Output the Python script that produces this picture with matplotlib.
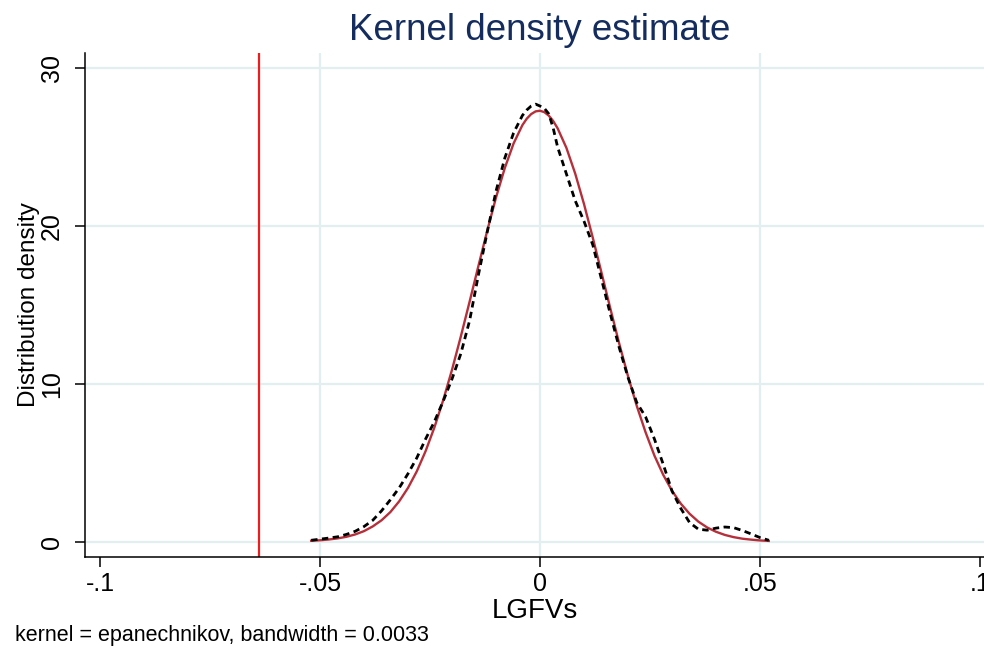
import matplotlib
matplotlib.use("Agg")
import matplotlib.pyplot as plt

# ---- data ----
x_vals = [-0.052, -0.050, -0.048, -0.046, -0.044, -0.042, -0.040, -0.038, -0.036, -0.034,
          -0.032, -0.030, -0.028, -0.026, -0.024, -0.022, -0.020, -0.018, -0.016, -0.014,
          -0.012, -0.010, -0.008, -0.006, -0.004, -0.003, -0.002, -0.001, 0.000, 0.001,
          0.002, 0.003, 0.004, 0.006,
          0.008, 0.010, 0.012, 0.014, 0.016, 0.018, 0.020, 0.022, 0.024, 0.026,
          0.028, 0.030, 0.032, 0.034, 0.036, 0.038, 0.040, 0.042, 0.044, 0.046,
          0.048, 0.050, 0.052]

normal_density = [0.05, 0.08, 0.13, 0.20, 0.30, 0.45, 0.66, 0.96, 1.35, 1.87,
                  2.55, 3.40, 4.45, 5.73, 7.23, 8.96, 10.88, 12.99, 15.20, 17.46,
                  19.69, 21.80, 23.67, 25.23, 26.39, 26.80, 27.09, 27.26, 27.30, 27.21,
                  26.99, 26.65, 26.19, 24.95,
                  23.32, 21.39, 19.25, 17.01, 14.75, 12.55, 10.48, 8.59, 6.92, 5.45,
                  4.23, 3.22, 2.40, 1.76, 1.26, 0.89, 0.62, 0.42, 0.28, 0.18,
                  0.12, 0.07, 0.04]

kernel_density = [0.08, 0.15, 0.22, 0.30, 0.45, 0.65, 0.95, 1.35, 1.95, 2.65,
                  3.40, 4.30, 5.30, 6.50, 7.60, 8.90, 10.30, 11.90, 14.00, 16.90,
                  19.60, 22.20, 24.30, 25.90, 27.00, 27.35, 27.60, 27.72, 27.60, 27.45,
                  27.10, 26.20, 25.00, 23.30,
                  21.60, 20.30, 18.80, 16.60, 14.40, 12.30, 10.40, 8.80, 7.90, 6.50,
                  4.90, 3.20, 2.10, 1.20, 0.78, 0.72, 0.85, 0.92, 0.88, 0.70,
                  0.48, 0.25, 0.08]

ref_line_x = -0.0639

x_ticks = [-0.1, -0.05, 0.0, 0.05, 0.1]
x_tick_labels = ["-.1", "-.05", "0", ".05", ".1"]
y_ticks = [0, 10, 20, 30]
y_tick_labels = ["0", "10", "20", "30"]

title = "Kernel density estimate"
x_label = "LGFVs"
y_label = "Distribution density"
note = "kernel = epanechnikov, bandwidth = 0.0033"

# ---- figure ----
plt.rcParams['font.family'] = ['Liberation Sans', 'DejaVu Sans']
fig = plt.figure(figsize=(9.84, 6.49), dpi=100)
W, H = 984, 649
ax = fig.add_axes([85 / W, 1 - 557 / H, 1 - 85 / W, (557 - 53) / H])

grid_col = "#e3eef1"
for yv in y_ticks:
    ax.axhline(yv, color=grid_col, lw=1.6, zorder=0)
for xv in [-0.05, 0.0, 0.05]:
    ax.axvline(xv, color=grid_col, lw=1.6, zorder=0)

ax.axvline(ref_line_x, color="#ee1c1c", lw=1.6, zorder=2)
ax.plot(x_vals, normal_density, color="#b5303a", lw=1.7, zorder=3)
ax.plot(x_vals, kernel_density, color="black", lw=2.0,
        linestyle=(0, (2.3, 1.6)), zorder=4)

ax.set_xlim(-0.10341, 0.10091)
ax.set_ylim(-0.98, 30.96)

ax.set_xticks(x_ticks)
ax.set_xticklabels(x_tick_labels, fontsize=18)
ax.set_yticks(y_ticks)
ax.set_yticklabels(y_tick_labels, fontsize=18, rotation=90, va="center")

for s in ["top", "right"]:
    ax.spines[s].set_visible(False)
for s in ["left", "bottom"]:
    ax.spines[s].set_linewidth(1.1)
    ax.spines[s].set_color("black")

ax.tick_params(axis="both", direction="out", length=7, width=1.1, colors="black")
ax.tick_params(axis="x", pad=4)
ax.tick_params(axis="y", pad=8)

ax.set_xlabel(x_label, fontsize=20, labelpad=1)
ax.set_ylabel(y_label, fontsize=17.5, labelpad=0)

fig.text(540 / W, 1 - 30 / H, title, fontsize=26.5, color="#142d5e",
         ha="center", va="center")
fig.text(15 / W, 1 - 635 / H, note, fontsize=15.5, color="black",
         ha="left", va="center")

fig.savefig("out.png", dpi=100)
